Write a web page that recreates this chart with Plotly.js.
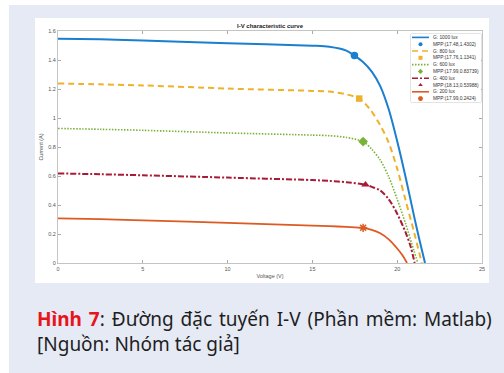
<!DOCTYPE html>
<html>
<head>
<meta charset="utf-8">
<script src="https://cdn.plot.ly/plotly-3.0.1.min.js"></script>
<style>html,body{margin:0;padding:0;background:#fff;}#chart{width:504px;height:373px;}</style>
</head>
<body>
<div id="chart"></div>
<script>
// ---- data ----
const seriesNames = ["G: 1000 lux", "G: 800 lux", "G: 600 lux", "G: 400 lux", "G: 200 lux"];

const V1000 = [0, 2.5, 5, 10, 15, 16, 17, 17.48, 18, 18.5, 19, 19.5, 20, 20.5, 21, 21.3, 21.64];
const I1000 = [1.546, 1.543, 1.535, 1.515, 1.499, 1.492, 1.465, 1.4302, 1.385, 1.32, 1.22, 1.06, 0.84, 0.59, 0.32, 0.165, 0];

const V800 = [0, 2.5, 5, 10, 15, 16, 17, 17.76, 18.4, 19, 19.5, 20, 20.5, 21, 21.45];
const I800 = [1.238, 1.232, 1.225, 1.203, 1.187, 1.182, 1.163, 1.1341, 1.06, 0.95, 0.83, 0.65, 0.43, 0.21, 0];

const V600 = [0, 2.5, 5, 10, 15, 16, 17, 17.99, 18.5, 19, 19.5, 20, 20.5, 21, 21.22];
const I600 = [0.928, 0.922, 0.915, 0.897, 0.882, 0.878, 0.866, 0.83739, 0.785, 0.71, 0.595, 0.44, 0.27, 0.08, 0];

const V400 = [0, 2.5, 5, 10, 15, 16, 17, 18.13, 18.5, 19, 19.5, 20, 20.5, 20.8, 21.03];
const I400 = [0.618, 0.612, 0.605, 0.589, 0.572, 0.566, 0.557, 0.53988, 0.525, 0.50, 0.44, 0.34, 0.21, 0.11, 0];

const V200 = [0, 2.5, 5, 10, 15, 16, 17, 17.99, 18.5, 19, 19.5, 20, 20.3, 20.58];
const I200 = [0.308, 0.302, 0.294, 0.277, 0.258, 0.254, 0.249, 0.2424, 0.228, 0.205, 0.163, 0.10, 0.055, 0];

const mppV = [17.48, 17.76, 17.99, 18.13, 17.99];
const mppI = ["1.4302", "1.1341", "0.83739", "0.53988", "0.2424"];

const xTicks = [0, 5, 10, 15, 20, 25];
const yTicks = [0, 0.2, 0.4, 0.6, 0.8, 1, 1.2, 1.4, 1.6];

const titleText = "I-V characteristic curve";
const xTitle = "Voltage (V)";
const yTitle = "Current (A)";
const captionBold = "Hình 7";
const captionRest = ": Đường đặc tuyến I-V (Phần mềm: Matlab)";
const captionLine2 = "[Nguồn: Nhóm tác giả]";

// ---- styles ----
const colors = ["#1a7fcf", "#eeb22a", "#79b236", "#a81b35", "#dd5a22"];
const dashes = ["solid", "6px,4px", "1.5px,1.5px", "6px,2px,2px,2px", "solid"];
const widths = [2, 2, 1.6, 2, 1.8];
const symbols = ["circle", "square", "diamond", "triangle-up", "asterisk-open"];
const msizes = [7.5, 6.5, 7.5, 7.5, 7];

const Vs = [V1000, V800, V600, V400, V200];
const Is = [I1000, I800, I600, I400, I200];

const W = 504, H = 373;
const px = v => v / W, py = v => 1 - v / H;

const traces = [];
for (let k = 0; k < 5; k++) {
  traces.push({
    x: Vs[k], y: Is[k], type: "scatter", mode: "lines",
    line: {color: colors[k], width: widths[k], dash: dashes[k], shape: "spline", smoothing: 0.8},
    showlegend: false, hoverinfo: "skip"
  });
}
function mk(k, size) {
  const sym = symbols[k];
  return sym === "asterisk-open"
    ? {symbol: sym, size: size, color: colors[k], line: {color: colors[k], width: 1.5}}
    : {symbol: sym, size: size, color: colors[k], line: {width: 0}};
}
for (let k = 0; k < 5; k++) {
  traces.push({
    x: [mppV[k]], y: [parseFloat(mppI[k])], type: "scatter", mode: "markers",
    marker: mk(k, msizes[k]), showlegend: false, hoverinfo: "skip"
  });
}

// custom compact legend drawn in an inset axis
const legendLabels = [];
const annotations = [];
for (let k = 0; k < 5; k++) {
  legendLabels.push(seriesNames[k]);
  legendLabels.push("MPP:(" + mppV[k].toFixed(2) + "," + mppI[k] + ")");
  traces.push({
    x: [1, 18], y: [2 * k, 2 * k], xaxis: "x2", yaxis: "y2", type: "scatter", mode: "lines",
    line: {color: colors[k], width: Math.min(widths[k], 1.6), dash: dashes[k]},
    showlegend: false, hoverinfo: "skip"
  });
  traces.push({
    x: [9.5], y: [2 * k + 1], xaxis: "x2", yaxis: "y2", type: "scatter", mode: "markers",
    marker: mk(k, 4), showlegend: false, hoverinfo: "skip"
  });
}
legendLabels.forEach((t, i) => {
  annotations.push({
    xref: "x2", yref: "y2", x: 19.5, y: i, text: t, showarrow: false,
    xanchor: "left", yanchor: "middle",
    font: {family: "Liberation Sans, Arial, sans-serif", size: 4.8, color: "#333"}
  });
});

// caption
const capFont = {family: "Noto Sans, Open Sans, sans-serif", size: 19, color: "#1e1e1e"};
annotations.push({
  xref: "paper", yref: "paper", x: px(35), y: py(319), xanchor: "left", yanchor: "middle",
  showarrow: false, align: "left",
  text: '<span style="word-spacing:2px"><b><span style="color:#e8141b">' + captionBold + '</span></b>' + captionRest + '</span>',
  font: capFont
});
annotations.push({
  xref: "paper", yref: "paper", x: px(35), y: py(344), xanchor: "left", yanchor: "middle",
  showarrow: false, align: "left",
  text: captionLine2,
  font: capFont
});

const axFont = {family: "Liberation Sans, Arial, sans-serif", size: 5.5, color: "#555"};
const layout = {
  width: W, height: H,
  margin: {l: 0, r: 0, t: 0, b: 0},
  paper_bgcolor: "#ffffff", plot_bgcolor: "#ffffff",
  showlegend: false,
  title: {text: "<b>" + titleText + "</b>", x: px(270), xanchor: "center", y: py(26), yanchor: "middle",
          font: {family: "Liberation Sans, Arial, sans-serif", size: 6, color: "#222"}},
  xaxis: {
    domain: [px(58), px(482)], range: [0, 25], tickvals: xTicks, ticktext: xTicks.map(String),
    ticks: "inside", ticklen: 3, tickcolor: "#aaa", tickwidth: 1,
    showline: true, linecolor: "#c4c4c4", linewidth: 1, mirror: "ticks",
    showgrid: false, zeroline: false, tickfont: axFont,
    title: {text: xTitle, font: axFont, standoff: 3}
  },
  yaxis: {
    domain: [py(263), py(31)], range: [0, 1.6], tickvals: yTicks, ticktext: yTicks.map(String),
    ticks: "inside", ticklen: 3, tickcolor: "#aaa", tickwidth: 1,
    showline: true, linecolor: "#c4c4c4", linewidth: 1, mirror: "ticks",
    showgrid: false, zeroline: false, tickfont: axFont,
    title: {text: yTitle, font: axFont, standoff: 4}
  },
  xaxis2: {domain: [px(411), px(481)], range: [0, 70], visible: false, fixedrange: true},
  yaxis2: {domain: [py(102), py(34)], range: [9.5, -0.5], visible: false, fixedrange: true, anchor: "x2"},
  shapes: [
    {type: "rect", xref: "paper", yref: "paper", x0: px(9), x1: 1, y0: 0, y1: py(5),
     fillcolor: "#e6eaf5", line: {width: 0}, layer: "below"},
    {type: "rect", xref: "paper", yref: "paper", x0: px(35), x1: px(489), y0: py(283), y1: py(18),
     fillcolor: "#ffffff", line: {width: 0}, layer: "below"},
    {type: "rect", xref: "paper", yref: "paper", x0: px(411), x1: px(481), y0: py(102), y1: py(34),
     fillcolor: "#ffffff", line: {color: "#c8c8c8", width: 1}, layer: "below"}
  ],
  annotations: annotations
};
Plotly.newPlot("chart", traces, layout, {staticPlot: true, displayModeBar: false});
</script>
</body>
</html>
